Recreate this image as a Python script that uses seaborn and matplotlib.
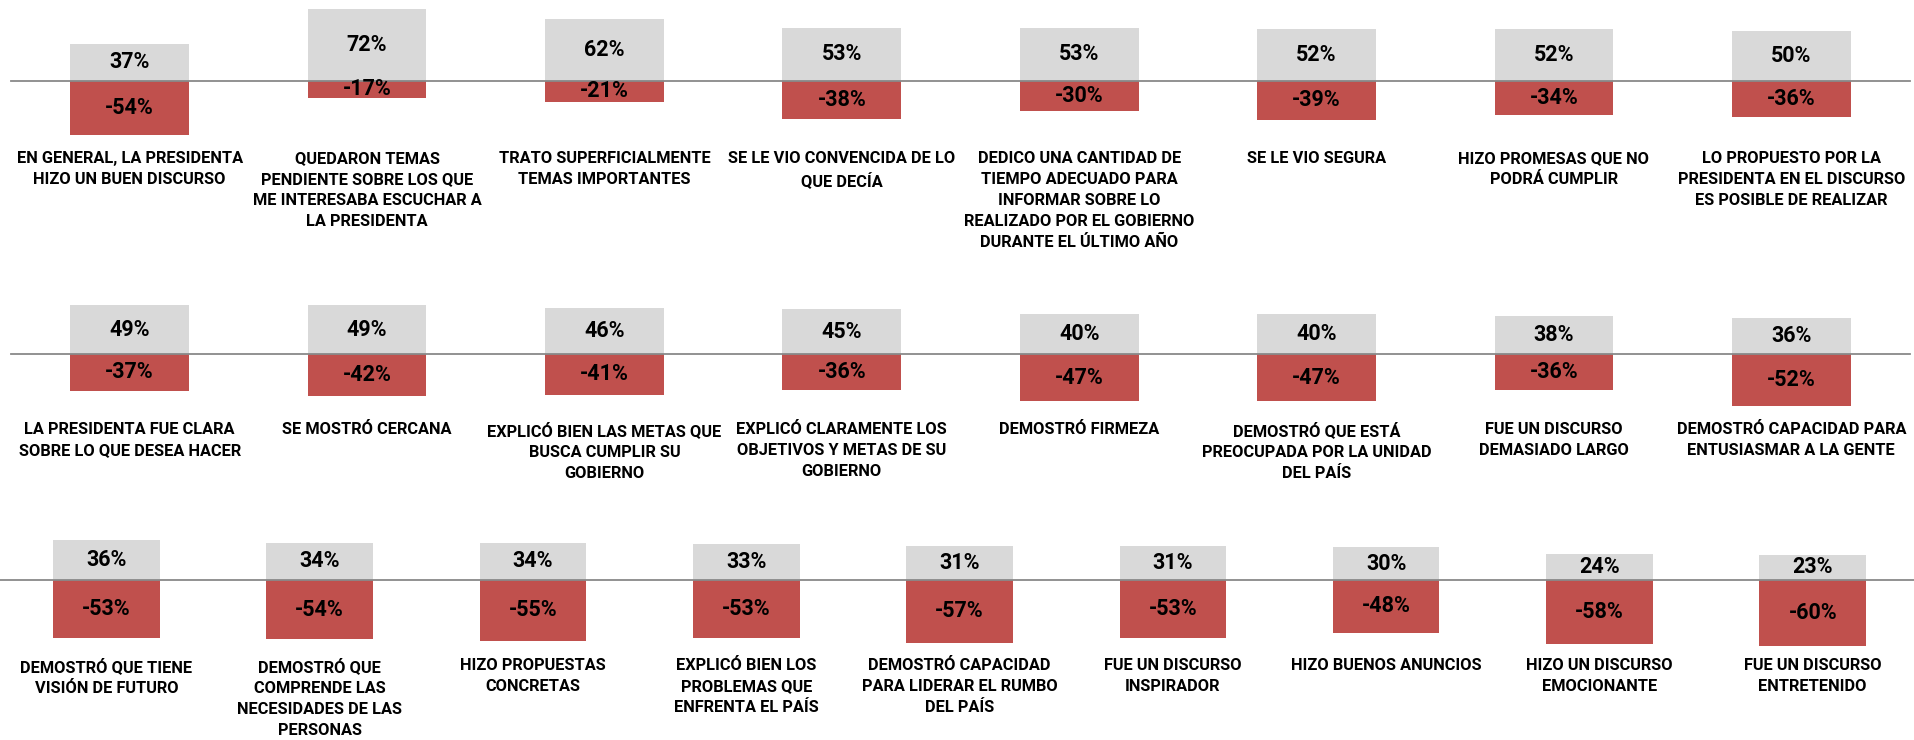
import numpy as np
import pandas as pd
import matplotlib
matplotlib.use('Agg')
import matplotlib.pyplot as plt
import matplotlib.transforms as mtransforms
import seaborn as sns

sns.set_style('white')
plt.rcParams['font.family'] = ['Roboto', 'DejaVu Sans']

# Row 1
labels_1 = [
    'EN GENERAL, LA PRESIDENTA\nHIZO UN BUEN DISCURSO',
    'QUEDARON TEMAS\nPENDIENTE SOBRE LOS QUE\nME INTERESABA ESCUCHAR A\nLA PRESIDENTA',
    'TRATO SUPERFICIALMENTE\nTEMAS IMPORTANTES',
    'SE LE VIO CONVENCIDA DE LO\nQUE DECÍA',
    'DEDICO UNA CANTIDAD DE\nTIEMPO ADECUADO PARA\nINFORMAR SOBRE LO\nREALIZADO POR EL GOBIERNO\nDURANTE EL ÚLTIMO AÑO',
    'SE LE VIO SEGURA',
    'HIZO PROMESAS QUE NO\nPODRÁ CUMPLIR',
    'LO PROPUESTO POR LA\nPRESIDENTA EN EL DISCURSO\nES POSIBLE DE REALIZAR',
]
pos_1 = [37, 72, 62, 53, 53, 52, 52, 50]
neg_1 = [-54, -17, -21, -38, -30, -39, -34, -36]

# Row 2
labels_2 = [
    'LA PRESIDENTA FUE CLARA\nSOBRE LO QUE DESEA HACER',
    'SE MOSTRÓ CERCANA',
    'EXPLICÓ BIEN LAS METAS QUE\nBUSCA CUMPLIR SU\nGOBIERNO',
    'EXPLICÓ CLARAMENTE LOS\nOBJETIVOS Y METAS DE SU\nGOBIERNO',
    'DEMOSTRÓ FIRMEZA',
    'DEMOSTRÓ QUE ESTÁ\nPREOCUPADA POR LA UNIDAD\nDEL PAÍS',
    'FUE UN DISCURSO\nDEMASIADO LARGO',
    'DEMOSTRÓ CAPACIDAD PARA\nENTUSIASMAR A LA GENTE',
]
pos_2 = [49, 49, 46, 45, 40, 40, 38, 36]
neg_2 = [-37, -42, -41, -36, -47, -47, -36, -52]

# Row 3
labels_3 = [
    'DEMOSTRÓ QUE TIENE\nVISIÓN DE FUTURO',
    'DEMOSTRÓ QUE\nCOMPRENDE LAS\nNECESIDADES DE LAS\nPERSONAS',
    'HIZO PROPUESTAS\nCONCRETAS',
    'EXPLICÓ BIEN LOS\nPROBLEMAS QUE\nENFRENTA EL PAÍS',
    'DEMOSTRÓ CAPACIDAD\nPARA LIDERAR EL RUMBO\nDEL PAÍS',
    'FUE UN DISCURSO\nINSPIRADOR',
    'HIZO BUENOS ANUNCIOS',
    'HIZO UN DISCURSO\nEMOCIONANTE',
    'FUE UN DISCURSO\nENTRETENIDO',
]
pos_3 = [36, 34, 34, 33, 31, 31, 30, 24, 23]
neg_3 = [-53, -54, -55, -53, -57, -53, -48, -58, -60]

GRAY = '#D9D9D9'
RED = '#C0504D'
AXIS = '#898989'

W, H = 1915, 740
fig = plt.figure(figsize=(W / 100, H / 100), dpi=100)


def draw_row(labels, pos, neg, x0, x1, zero_px, scale, ylim, label_top):
    """One row of paired bars; geometry given in figure pixels."""
    top = zero_px - ylim[1] * scale
    bottom = zero_px - ylim[0] * scale
    ax = fig.add_axes([x0 / W, 1 - bottom / H, (x1 - x0) / W, (bottom - top) / H])
    ax.set_facecolor('none')
    df = pd.DataFrame({'cat': labels, 'pos': pos, 'neg': neg})
    sns.barplot(data=df, x='cat', y='pos', color=GRAY, width=0.5,
                saturation=1, linewidth=0, ax=ax)
    sns.barplot(data=df, x='cat', y='neg', color=RED, width=0.5,
                saturation=1, linewidth=0, ax=ax)
    n = len(labels)
    ax.set_xlim(-0.5, n - 0.5)
    ax.set_ylim(*ylim)
    for s in ['top', 'left', 'right']:
        ax.spines[s].set_visible(False)
    ax.spines['bottom'].set_position(('data', 0))
    ax.spines['bottom'].set_color(AXIS)
    ax.spines['bottom'].set_linewidth(1.3)
    ax.set_xticks(np.arange(n + 1) - 0.5)
    ax.set_xticklabels([])
    ax.tick_params(axis='x', length=6, width=1.1, color=AXIS, direction='out')
    ax.set_yticks([])
    ax.set_xlabel('')
    ax.set_ylabel('')

    for i, (p, q) in enumerate(zip(pos, neg)):
        ax.text(i, p / 2, f'{p}%', ha='center', va='center',
                fontsize=15.5, fontweight='bold', color='black')
        ax.text(i, q / 2, f'{q}%', ha='center', va='center',
                fontsize=15.5, fontweight='bold', color='black')

    trans = mtransforms.blended_transform_factory(ax.transData, fig.transFigure)
    for i, lab in enumerate(labels):
        ax.text(i, 1 - label_top / H, lab, transform=trans, ha='center', va='top',
                fontsize=11.8, fontweight='bold', linespacing=1.5,
                color='black', clip_on=False)
    return ax


draw_row(labels_1, pos_1, neg_1, 11, 1910, 80.7, 1.0, (-60, 78), 151)
draw_row(labels_2, pos_2, neg_2, 11, 1910, 354, 1.0, (-60, 55), 422)
draw_row(labels_3, pos_3, neg_3, -0.3, 1919.4, 580, 1.1, (-65, 45), 658)

fig.savefig('out.png', dpi=100)
